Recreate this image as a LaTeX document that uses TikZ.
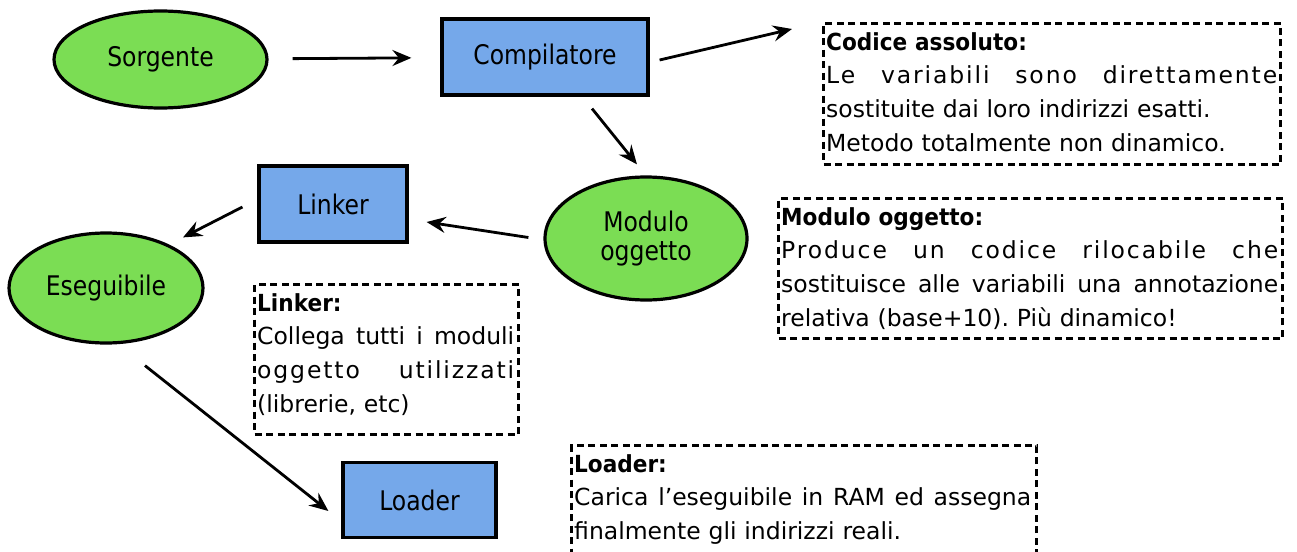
\documentclass[tikz,border=0pt]{standalone}
\usepackage{fontspec}
\setmainfont{DejaVu Sans}
\newfontfamily\hdrfont[FakeStretch=0.92]{DejaVu Sans}
\newfontfamily\nodefont[FakeStretch=0.87]{DejaVu Sans}
\usetikzlibrary{arrows.meta,shapes.geometric,calc}
\definecolor{ovalgreen}{RGB}{123,221,84}
\definecolor{boxblue}{RGB}{117,168,234}
% justified line: width, letter spacing, words separated by \hfill
\newcommand\jl[3]{\leavevmode{\addfontfeature{LetterSpace=#2}\hbox to #1pt{#3}}}
\newcommand\hdr[1]{{\hdrfont\bfseries #1}}
\begin{document}
\frenchspacing
\begin{tikzpicture}[x=1pt,y=-1pt,
  oval/.style={ellipse,draw=black,line width=3.2pt,fill=ovalgreen,inner sep=0pt,
    font=\nodefont\fontsize{27}{29}\selectfont,align=center},
  rbox/.style={rectangle,draw=black,line width=3.2pt,fill=boxblue,inner sep=0pt,
    font=\nodefont\fontsize{27}{29}\selectfont},
  note/.style={rectangle,draw=black,line width=3pt,dash pattern=on 7pt off 4.5pt,
    inner sep=0pt,anchor=north west},
  notetext/.style={anchor=north west,inner sep=0pt,align=left,
    font=\fontsize{23.5}{33.7}\selectfont},
  arr/.style={line width=2.8pt,-{Stealth[length=19pt,width=16pt,inset=6.5pt]}}]
\useasboundingbox (0,0) rectangle (1297,551);
\clip (0,0) rectangle (1297,551);

% main nodes
\node[oval,minimum width=213,minimum height=97] (sorg) at (160.5,59.5) {Sorgente};
\node[rbox,minimum width=206,minimum height=76] (comp) at (545,57) {Compilatore};
\node[oval,minimum width=202,minimum height=123] (mod) at (646,238.5) {Modulo\\oggetto};
\node[rbox,minimum width=148,minimum height=76] (link) at (333,204) {Linker};
\node[oval,minimum width=194,minimum height=110] (ese) at (106,288) {Eseguibile};
\node[rbox,minimum width=153,minimum height=75] (load) at (419.5,500) {Loader};

% note boxes
\node[note,minimum width=457,minimum height=141] (codbox) at (822,22) {};
\node[note,minimum width=504,minimum height=140] (modbox) at (777,197) {};
\node[note,minimum width=264,minimum height=150] (linkbox) at (253,283) {};
\node[note,minimum width=465,minimum height=140] (loadbox) at (570,444) {};

\node[notetext,text width=451pt] (codtxt) at ($(codbox.north west)+(4,10)$) {%
\hdr{Codice assoluto:}\\
\jl{451}{8}{Le\hfill variabili\hfill sono\hfill direttamente}\\
sostituite dai loro indirizzi esatti.\\
Metodo totalmente non dinamico.};

\node[notetext,text width=497pt] (modtxt) at ($(modbox.north west)+(4,10)$) {%
\hdr{Modulo oggetto:}\\
\jl{497}{8}{Produce\hfill un\hfill codice\hfill rilocabile\hfill che}\\
\jl{497}{0}{sostituisce\hfill alle\hfill variabili\hfill una\hfill annotazione}\\
relativa (base+10). Più dinamico!};

\node[notetext,text width=257pt] (linktxt) at ($(linkbox.north west)+(4,10)$) {%
\hdr{Linker:}\\
\jl{257}{0}{Collega\hfill tutti\hfill i\hfill moduli}\\
\jl{257}{8}{oggetto\hfill utilizzati}\\
(librerie, etc)};

\node[notetext,text width=457pt] (loadtxt) at ($(loadbox.north west)+(4,10)$) {%
\hdr{Loader:}\\
\jl{457}{0}{Carica\hfill l’eseguibile\hfill in\hfill RAM\hfill ed\hfill assegna}\\
finalmente gli indirizzi reali.};

% connectors
\draw[arr,shorten <=24pt,shorten >=29pt] (sorg) -- (comp);
\draw[arr] ($(comp.east)+(10,3)$) -- ($(codbox.north west)+(-30,7)$);
\draw[arr] ($(comp.south)+(47,12)$) -- ($(mod.north)+(-9,-11)$);
\draw[arr] ($(mod.west)+(-15,-1)$) -- ($(link.east)+(18,18)$);
\draw[arr] ($(link.west)+(-15,3)$) -- ($(ese.north)+(77,6)$);
\draw[arr] ($(ese.south)+(39,21)$) -- ($(load.west)+(-13,11)$);
\end{tikzpicture}
\end{document}
